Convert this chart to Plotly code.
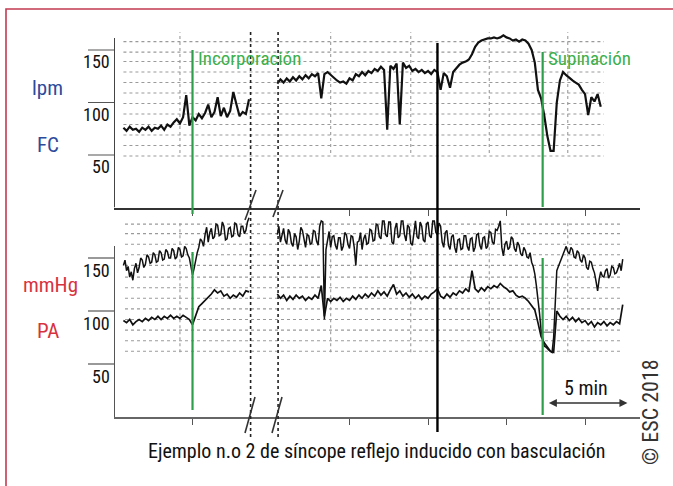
import plotly.graph_objects as go

# ---------------- data (minutes, bpm, mmHg) ----------------
HR_STEP = 0.2              # minutes between heart-rate samples
SYS_STEP = 0.1             # minutes between systolic samples
DIA_STEP = 0.2             # minutes between diastolic samples
SEG1_START = 0.6           # first recorded segment (before the break)
SEG2_START = 10.4          # second recorded segment (after the break)

HR_SEG1 = [76, 73, 77, 74, 75, 72, 76, 74, 77, 73, 76, 75, 78, 74, 79, 77, 81, 84, 80, 86,
           107, 78, 86, 83, 89, 85, 90, 98, 86, 91, 105, 87, 95, 86, 92, 110, 98, 87, 91, 89, 103]
HR_SEG2 = [118, 122, 119, 123, 120, 124, 121, 125, 122, 126,
           123, 127, 125, 128, 104, 127, 129, 126, 123, 121,
           119, 120, 118, 123, 121, 127, 125, 129, 126, 130,
           128, 132, 130, 134, 131, 74, 135, 132, 137, 79,
           138, 133, 135, 130, 132, 129, 131, 128, 130, 127,
           131, 129, 112, 128, 125, 114, 129, 133, 136, 138,
           139, 141, 146, 153, 157, 159, 160, 161, 161, 162,
           161, 162, 164, 162, 161, 159, 160, 158, 160, 159,
           156, 150, 138, 112, 104, 88, 68, 54, 54, 100,
           121, 129, 126, 123, 121, 119, 117, 112, 108, 88,
           105, 101, 108, 96]

SYS_SEG1 = [143, 148, 138, 142, 132, 137, 129, 140, 145, 136, 141, 150, 148, 141, 144, 153, 151, 145, 146, 155,
            153, 146, 147, 157, 155, 148, 149, 158, 156, 150, 150, 159, 157, 149, 151, 160, 158, 151, 152, 161,
            159, 153, 150, 142, 134, 140, 148, 155, 160, 168, 166, 161, 172, 179, 165, 174, 178, 168, 170, 182,
            181, 171, 172, 184, 180, 167, 168, 178, 179, 170, 171, 183, 182, 172, 170, 180, 180, 173, 176, 184,
            188]
SYS_SEG2 = [172, 180, 165, 171, 178, 167, 163, 177, 174, 164, 161, 173, 170, 158, 166, 179, 176, 168, 160, 172,
            171, 163, 164, 176, 175, 166, 162, 180, 185, 184, 92, 158, 168, 175, 160, 170, 171, 162, 158, 169,
            169, 157, 161, 174, 172, 163, 159, 171, 170, 160, 143, 165, 166, 174, 158, 168, 172, 163, 164, 177,
            176, 166, 167, 182, 181, 170, 168, 185, 185, 172, 170, 184, 184, 165, 163, 178, 183, 169, 171, 185,
            185, 172, 166, 181, 179, 164, 162, 177, 185, 170, 168, 184, 180, 167, 165, 182, 184, 171, 169, 185,
            185, 174, 172, 183, 180, 165, 160, 174, 176, 162, 158, 170, 172, 160, 155, 167, 168, 158, 159, 171,
            171, 161, 157, 168, 169, 156, 160, 172, 173, 162, 158, 169, 170, 159, 161, 175, 174, 165, 163, 177,
            176, 180, 185, 160, 152, 163, 166, 158, 160, 170, 168, 159, 156, 165, 162, 154, 152, 160, 157, 151,
            150, 155, 146, 142, 135, 124, 112, 98, 82, 74, 67, 66, 64, 63, 62, 61, 75, 105, 138, 142,
            146, 150, 152, 158, 161, 156, 154, 160, 158, 151, 150, 157, 155, 148, 146, 153, 150, 141, 139, 147,
            146, 140, 136, 128, 119, 130, 137, 133, 132, 138, 140, 131, 134, 142, 141, 135, 136, 140, 145, 138,
            149]

DIA_SEG1 = [91, 89, 92, 87, 90, 92, 90, 93, 91, 94, 92, 95, 92, 95, 93, 96, 93, 95, 93, 96,
            94, 92, 87, 96, 104, 107, 110, 112, 116, 120, 117, 119, 114, 116, 112, 115, 113, 117,
            114, 119, 118]
DIA_SEG2 = [116, 112, 115, 110, 114, 111, 115, 112, 114, 110,
            113, 111, 115, 112, 124, 95, 112, 109, 112, 110,
            113, 109, 112, 110, 114, 111, 115, 112, 116, 113,
            117, 114, 119, 115, 118, 114, 120, 125, 116, 119,
            114, 117, 113, 116, 112, 115, 111, 114, 112, 116,
            118, 121, 114, 112, 116, 113, 117, 115, 119, 117,
            121, 118, 138, 121, 118, 122, 119, 123, 121, 124,
            122, 126, 123, 121, 118, 119, 115, 113, 114, 112,
            109, 105, 101, 89, 76, 70, 66, 62, 61, 100,
            95, 92, 95, 91, 94, 90, 93, 89, 91, 87,
            90, 85, 89, 87, 90, 86, 89, 87, 90, 88,
            106]

ARTIFACT_T = [27.3, 27.95]
ARTIFACT_V = [80, 80]

TIME_TICKS = [5, 15, 20, 25, 30]
Y_TICKS = [50, 100, 150]
Y_TICK_LABELS = ["50", "100", "150"]
HR_GRID = [49, 59, 69, 79, 89, 99, 109, 119, 129, 139, 148, 158]
BP_GRID = [62, 72, 82, 92, 102, 112, 122, 132, 143, 153, 163, 173, 182]
VGRID_T = [4.2, 13.8, 18.9, 23.9, 28.9]
BREAK_T = [8.7, 10.45]
TILT_T = 5.0
SUPINE_T = 27.3
MARK_T = 20.6
SCALE_BAR_T = [27.6, 32.7]

# ---------------- helpers ----------------
W, H = 673, 486
def px(x):
    return x / W
def py(y):
    return 1 - y / H

def seg_times(start, vals, step):
    return [round(start + i * step, 3) for i in range(len(vals))]

def join(v1, v2, step):
    t = seg_times(SEG1_START, v1, step) + [None] + seg_times(SEG2_START, v2, step)
    v = list(v1) + [None] + list(v2)
    return t, v

FONT = "Liberation Sans Narrow, Roboto Condensed, Roboto, Arial Narrow, sans-serif"
GREEN = "#2f9e4a"
GREEN_TXT = "#3cb04c"
BLUE = "#2d4b9b"
RED = "#d7333f"
GRID = "#9a9a9a"

X_RANGE = [0, 33.5]
Y1_RANGE = [0, 170.95]
Y2_RANGE = [0, 190.57]

fig = go.Figure()

t_hr, v_hr = join(HR_SEG1, HR_SEG2, HR_STEP)
t_sys, v_sys = join(SYS_SEG1, SYS_SEG2, SYS_STEP)
t_dia, v_dia = join(DIA_SEG1, DIA_SEG2, DIA_STEP)

fig.add_trace(go.Scatter(x=t_hr, y=v_hr, mode="lines", line=dict(color="#111", width=2.2),
                         xaxis="x", yaxis="y", connectgaps=False, hoverinfo="skip"))
fig.add_trace(go.Scatter(x=t_sys, y=v_sys, mode="lines", line=dict(color="#111", width=1.5),
                         xaxis="x2", yaxis="y2", connectgaps=False, hoverinfo="skip"))
fig.add_trace(go.Scatter(x=t_dia, y=v_dia, mode="lines", line=dict(color="#111", width=1.7),
                         xaxis="x2", yaxis="y2", connectgaps=False, hoverinfo="skip"))
fig.add_trace(go.Scatter(x=ARTIFACT_T, y=ARTIFACT_V, mode="lines", line=dict(color="#777", width=1.2),
                         xaxis="x2", yaxis="y2", hoverinfo="skip"))

shapes = []
# horizontal dotted grid
for g in HR_GRID:
    shapes.append(dict(type="line", xref="x", yref="y", x0=0.6, x1=31.2, y0=g, y1=g,
                       line=dict(color=GRID, width=1.1, dash="dot"), layer="below"))
for g in BP_GRID:
    shapes.append(dict(type="line", xref="x2", yref="y2", x0=0.7, x1=32.4, y0=g, y1=g,
                       line=dict(color=GRID, width=1.1, dash="dot"), layer="below"))
# vertical dotted grid
for t in VGRID_T:
    shapes.append(dict(type="line", xref="x", yref="y", x0=t, x1=t, y0=52, y1=167,
                       line=dict(color=GRID, width=1.1, dash="dot"), layer="below"))
    shapes.append(dict(type="line", xref="x2", yref="y2", x0=t, x1=t, y0=61, y1=183,
                       line=dict(color=GRID, width=1.1, dash="dot"), layer="below"))
# y axis lines and tick marks
shapes.append(dict(type="line", xref="x", yref="y", x0=0, x1=0, y0=0, y1=161.4,
                   line=dict(color="#444", width=2)))
shapes.append(dict(type="line", xref="x2", yref="y2", x0=0, x1=0, y0=0, y1=161.3,
                   line=dict(color="#555", width=2)))
for v in Y_TICKS:
    shapes.append(dict(type="line", xref="paper", yref="y", x0=px(88), x1=px(114), y0=v, y1=v,
                       line=dict(color="#555", width=1.2)))
    shapes.append(dict(type="line", xref="paper", yref="y2", x0=px(88), x1=px(114), y0=v, y1=v,
                       line=dict(color="#555", width=1.2)))
# break lines
for t in BREAK_T:
    shapes.append(dict(type="line", xref="x", yref="paper", x0=t, x1=t, y0=py(32), y1=py(437),
                       line=dict(color="#222", width=1.6, dash="dot")))
# break slashes
for (xa, ya, xb, yb) in [(245, 220, 256, 190), (273, 217, 283, 190),
                         (245, 433, 255, 397), (272, 433, 282, 397)]:
    shapes.append(dict(type="line", xref="paper", yref="paper", x0=px(xa), y0=py(ya),
                       x1=px(xb), y1=py(yb), line=dict(color="#333", width=1.6)))
# black event line
shapes.append(dict(type="line", xref="x", yref="paper", x0=MARK_T, x1=MARK_T, y0=py(43), y1=py(432),
                   line=dict(color="#000", width=2.4)))
# green event lines
shapes.append(dict(type="line", xref="x", yref="paper", x0=TILT_T, x1=TILT_T, y0=py(50), y1=py(214),
                   line=dict(color=GREEN, width=2.2)))
shapes.append(dict(type="line", xref="x", yref="paper", x0=TILT_T, x1=TILT_T, y0=py(252), y1=py(410),
                   line=dict(color=GREEN, width=2.2)))
shapes.append(dict(type="line", xref="x", yref="paper", x0=SUPINE_T, x1=SUPINE_T, y0=py(52), y1=py(207),
                   line=dict(color=GREEN, width=2.2)))
shapes.append(dict(type="line", xref="x", yref="paper", x0=SUPINE_T, x1=SUPINE_T, y0=py(258), y1=py(415),
                   line=dict(color=GREEN, width=2.2)))
# frame
shapes.append(dict(type="rect", xref="paper", yref="paper", x0=px(6), y0=py(9), x1=px(700), y1=py(520),
                   line=dict(color="#c23b52", width=1.6)))

ann = []
def txt(x, y, s, size, color, xanchor="center", yanchor="middle", angle=0, xref="paper", yref="paper"):
    ann.append(dict(x=x, y=y, xref=xref, yref=yref, text=s, showarrow=False, xanchor=xanchor,
                    yanchor=yanchor, textangle=angle, font=dict(family=FONT, size=size, color=color)))

for v, lab in zip(Y_TICKS, Y_TICK_LABELS):
    ann.append(dict(x=px(112), y=v, xref="paper", yref="y", text=lab, showarrow=False, xanchor="right",
                    yanchor="middle", yshift=-12, font=dict(family=FONT, size=18, color="#111")))
    ann.append(dict(x=px(112), y=v, xref="paper", yref="y2", text=lab, showarrow=False, xanchor="right",
                    yanchor="middle", yshift=-12, font=dict(family=FONT, size=18, color="#111")))

txt(px(47), py(88), "lpm", 21, BLUE)
txt(px(48), py(145), "FC", 21, BLUE)
txt(px(50), py(285), "mmHg", 21, RED)
txt(px(48), py(331), "PA", 21, RED)
txt(px(196), py(58), "Incorporación", 19, GREEN_TXT, xanchor="left")
txt(px(546), py(58), "Supinación", 19, GREEN_TXT, xanchor="left")
txt(px(376), py(451), "Ejemplo n.o 2 de síncope reflejo inducido con basculación", 20, "#111")
txt(px(586), py(388), "5 min", 20, "#111")
txt(px(650), py(412), "© ESC 2018", 22, "#333", angle=-90)

# 5 min scale arrow
ann.append(dict(x=SCALE_BAR_T[1], y=13.2, ax=SCALE_BAR_T[0], ay=13.2, xref="x2", yref="y2",
                axref="x2", ayref="y2", text="", showarrow=True, arrowhead=2, arrowside="end+start",
                arrowsize=1, arrowwidth=1.6, arrowcolor="#333"))

axis_common = dict(range=X_RANGE, domain=[px(114), px(640)], showgrid=False, zeroline=False,
                   showticklabels=False, ticks="outside", tickvals=TIME_TICKS, ticklen=6,
                   tickwidth=1.4, tickcolor="#555", showline=True)
fig.update_layout(
    width=W, height=H, autosize=False,
    margin=dict(l=0, r=0, t=0, b=0),
    paper_bgcolor="white", plot_bgcolor="rgba(0,0,0,0)",
    showlegend=False,
    xaxis=dict(anchor="y", linecolor="#333", linewidth=2.2, **axis_common),
    xaxis2=dict(anchor="y2", linecolor="#666", linewidth=2, **axis_common),
    yaxis=dict(domain=[py(207.5), py(28)], range=Y1_RANGE, visible=False, anchor="x"),
    yaxis2=dict(domain=[py(417), py(215)], range=Y2_RANGE, visible=False, anchor="x2"),
    shapes=shapes, annotations=ann,
)

fig.write_html("out.html")
